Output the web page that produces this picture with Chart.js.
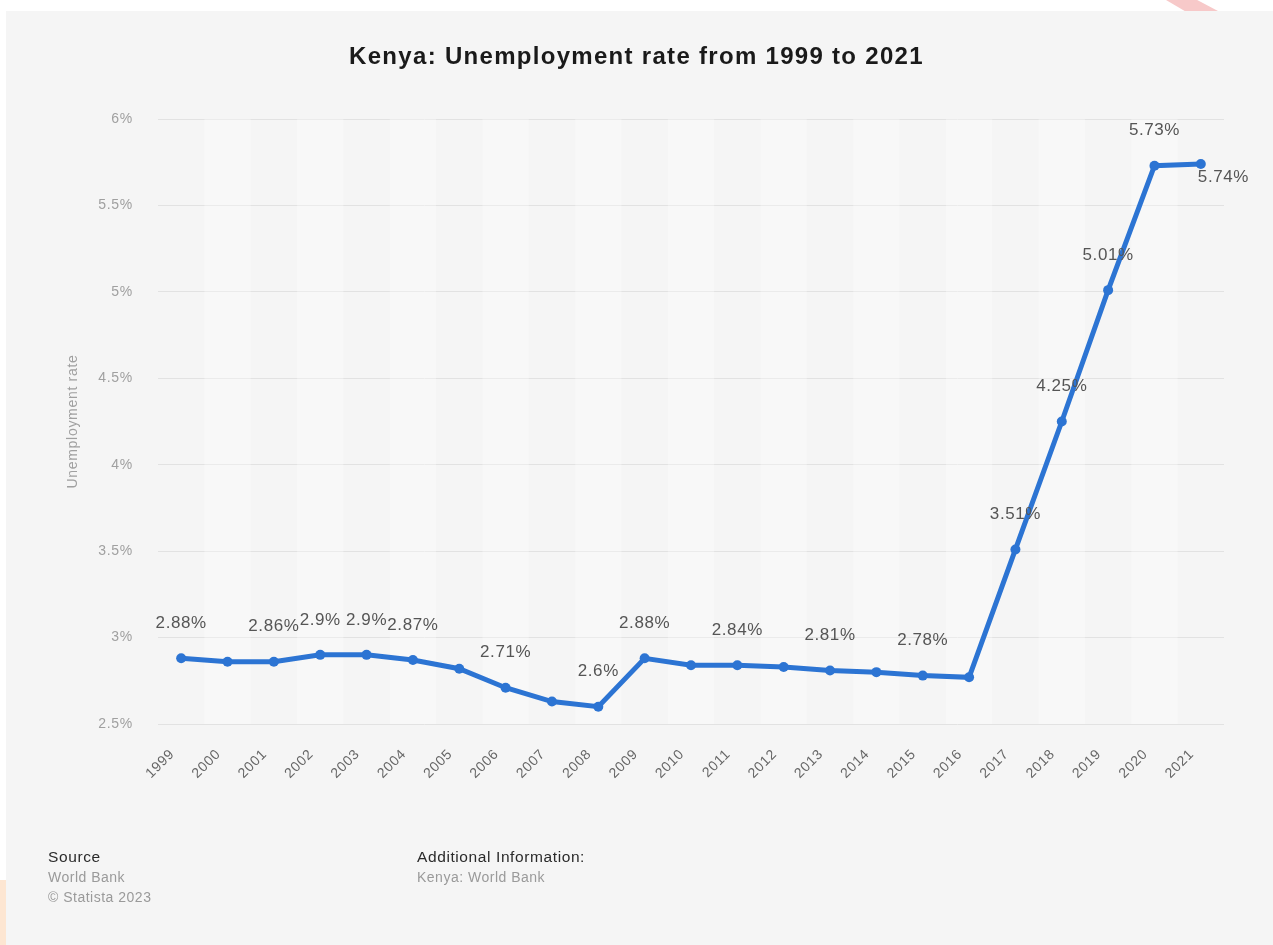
<!DOCTYPE html>
<html>
<head>
<meta charset="utf-8">
<script src="https://cdn.jsdelivr.net/npm/chart.js@4.4.1/dist/chart.umd.min.js"></script>
<style>
  html, body { margin:0; padding:0; background:#ffffff; }
  body { width:1273px; height:945px; position:relative; overflow:hidden; font-family:"Liberation Sans", Arial, Helvetica, sans-serif; }
  #panel { position:absolute; left:6px; top:11px; width:1267px; height:934px; background:#f5f5f5; }
  #deco1 { position:absolute; left:0; top:880px; width:6px; height:65px; background:#fde6d2; }
  #deco2 { position:absolute; left:1166px; top:0; width:52px; height:11px; background:#f7c9c9; clip-path:polygon(0 0, 60% 0, 100% 100%, 36% 100%); }
  #wrap { position:absolute; left:0; top:0; width:1273px; height:945px; }
  #title { position:absolute; left:0; width:1273px; top:42px; text-align:center; font-weight:bold; font-size:24px; letter-spacing:1.3px; color:#1a1a1a; }
  .foot { position:absolute; }
  .foot .h { color:#2a2a2a; font-size:15.5px; line-height:20px; letter-spacing:0.6px; }
  .foot .t { color:#9a9a9a; font-size:14px; line-height:20px; letter-spacing:0.5px; }
</style>
</head>
<body>
<div id="panel"></div>
<div id="deco1"></div>
<div id="deco2"></div>
<div id="wrap"><canvas id="c" width="1273" height="945"></canvas></div>
<div id="title">Kenya: Unemployment rate from 1999 to 2021</div>
<div class="foot" style="left:48px; top:847px;"><div class="h">Source</div><div class="t">World Bank</div><div class="t">© Statista 2023</div></div>
<div class="foot" style="left:417px; top:847px;"><div class="h">Additional Information:</div><div class="t">Kenya: World Bank</div></div>
<script>
const years = ["1999","2000","2001","2002","2003","2004","2005","2006","2007","2008","2009","2010","2011","2012","2013","2014","2015","2016","2017","2018","2019","2020","2021"];
const unemploymentRate = [2.88, 2.86, 2.86, 2.9, 2.9, 2.87, 2.82, 2.71, 2.63, 2.6, 2.88, 2.84, 2.84, 2.83, 2.81, 2.8, 2.78, 2.77, 3.51, 4.25, 5.01, 5.73, 5.74];
const labeledYears = ["1999","2001","2002","2003","2004","2006","2008","2009","2011","2013","2015","2017","2018","2019","2020","2021"];
const yTicks = [2.5, 3, 3.5, 4, 4.5, 5, 5.5, 6];
const yAxisTitle = "Unemployment rate";

const BLUE = "#2c74d3";
const FONT = "'Liberation Sans', Arial, sans-serif";

const spacingPlugin = {
  id: "spacing",
  beforeDraw(chart) { chart.ctx.letterSpacing = "0.7px"; }
};

const bandsPlugin = {
  id: "bands",
  beforeDatasetsDraw(chart) {
    const {ctx, chartArea, scales} = chart;
    const x = scales.x;
    const w = x.getPixelForValue(1) - x.getPixelForValue(0);
    ctx.save();
    for (let i = 0; i < years.length; i++) {
      if (i % 2 === 0) continue;
      const cx = x.getPixelForValue(i);
      ctx.fillStyle = "rgba(255,255,255,0.3)";
      ctx.fillRect(cx - w / 2, chartArea.top, w, chartArea.bottom - chartArea.top);
    }
    ctx.restore();
  }
};

const labelPlugin = {
  id: "valueLabels",
  afterDatasetsDraw(chart) {
    const {ctx} = chart;
    const meta = chart.getDatasetMeta(0);
    ctx.save();
    ctx.letterSpacing = "0.6px";
    ctx.font = "17px " + FONT;
    ctx.fillStyle = "#555555";
    ctx.textBaseline = "middle";
    meta.data.forEach((pt, i) => {
      if (!labeledYears.includes(years[i])) return;
      const txt = unemploymentRate[i] + "%";
      if (i === years.length - 1) {
        ctx.textAlign = "left";
        ctx.fillText(txt, pt.x - 3, pt.y + 13);
      } else {
        ctx.textAlign = "center";
        ctx.fillText(txt, pt.x, pt.y - 35);
      }
    });
    ctx.restore();
  }
};

new Chart(document.getElementById("c"), {
  type: "line",
  data: {
    labels: years,
    datasets: [{
      data: unemploymentRate,
      borderColor: BLUE,
      backgroundColor: BLUE,
      borderWidth: 5,
      pointRadius: 5,
      pointBackgroundColor: BLUE,
      pointBorderColor: BLUE,
      pointBorderWidth: 0,
      tension: 0,
      fill: false
    }]
  },
  options: {
    responsive: false,
    animation: false,
    layout: { padding: { left: 58, right: 49, top: 119, bottom: 121 } },
    plugins: { legend: { display: false }, tooltip: { enabled: false }, title: { display: false } },
    scales: {
      x: {
        offset: true,
        grid: { display: false },
        border: { display: false },
        ticks: {
          minRotation: 45, maxRotation: 45, autoSkip: false, padding: 14, labelOffset: -9,
          color: "#666666",
          font: { family: FONT, size: 14 }
        },
        afterFit(scale) { scale.height = 100; }
      },
      y: {
        min: 2.5, max: 6,
        afterBuildTicks(scale) { scale.ticks = yTicks.map(v => ({ value: v })); },
        grid: { color: "#e2e2e2", lineWidth: 1, drawTicks: false },
        border: { display: false },
        ticks: {
          padding: 25,
          color: "#a0a0a0",
          font: { family: FONT, size: 14 },
          callback: v => v + "%"
        },
        title: {
          display: true, text: yAxisTitle, color: "#a0a0a0",
          font: { family: FONT, size: 14 },
          padding: { top: 7, bottom: 0 }
        },
        afterFit(scale) { scale.width = 100; }
      }
    }
  },
  plugins: [spacingPlugin, bandsPlugin, labelPlugin]
});
</script>
</body>
</html>
